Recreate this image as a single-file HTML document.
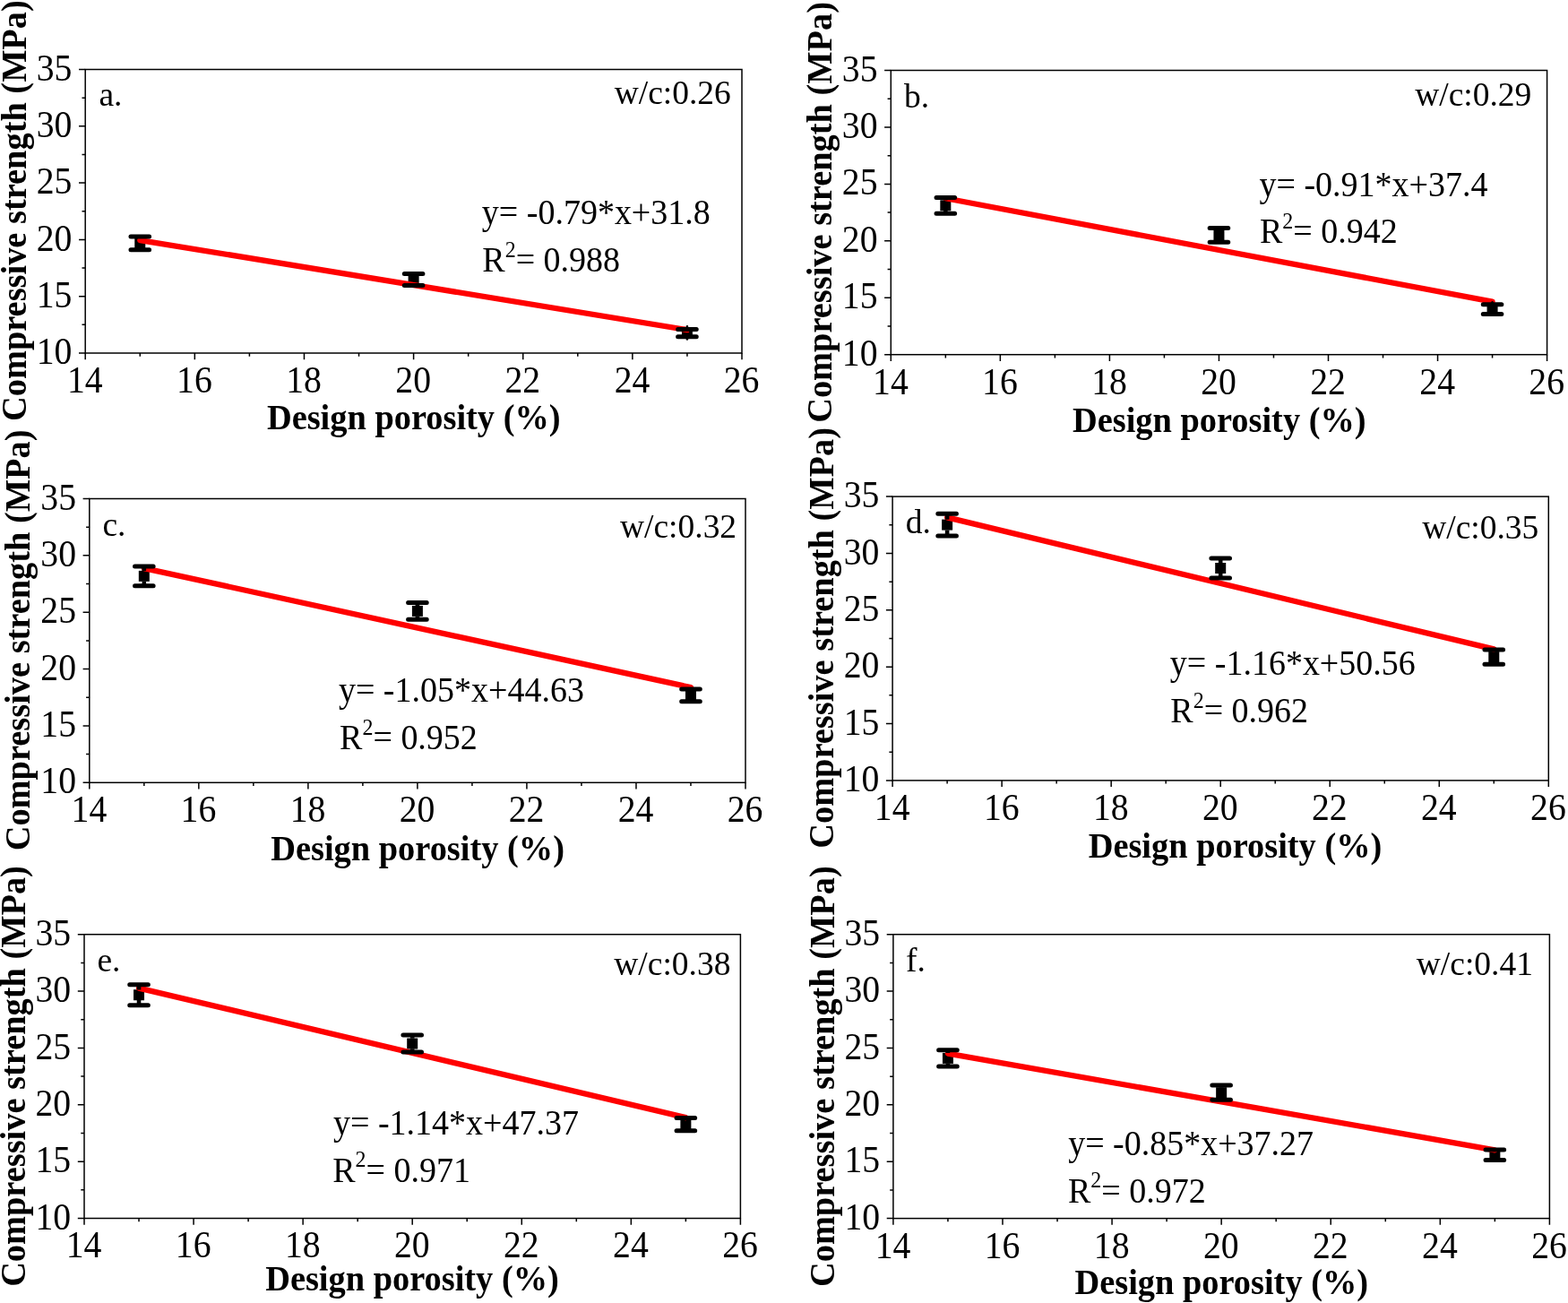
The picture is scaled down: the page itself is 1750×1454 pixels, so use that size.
<!DOCTYPE html>
<html><head><meta charset="utf-8"><title>Compressive strength vs design porosity</title>
<style>
html,body{margin:0;padding:0;background:#fff;}
body{width:1750px;height:1454px;overflow:hidden;}
svg{display:block;}
text{font-family:"Liberation Serif","Times New Roman",serif;fill:#000;}
.tk{font-size:40.5px;}
.ann{font-size:38px;}
.wc{font-size:37.5px;}
.let{font-size:37.5px;}
.lab{font-size:38.4px;font-weight:bold;}
.sup{font-size:24px;}
</style></head><body>
<svg width="1750" height="1454" viewBox="0 0 1750 1454">
<rect width="1750" height="1454" fill="#fff"/>
<g id="pa"><rect x="95.2" y="77.5" width="732.8" height="316.5" fill="none" stroke="#000" stroke-width="1.5"/><path d="M88 394H95.2M88 330.7H95.2M88 267.4H95.2M88 204.1H95.2M88 140.8H95.2M88 77.5H95.2M91.5 362.35H95.2M91.5 299.05H95.2M91.5 235.75H95.2M91.5 172.45H95.2M91.5 109.15H95.2M95.2 394V401.2M217.33 394V401.2M339.47 394V401.2M461.6 394V401.2M583.73 394V401.2M705.87 394V401.2M828 394V401.2M156.27 394V397.7M278.4 394V397.7M400.53 394V397.7M522.67 394V397.7M644.8 394V397.7M766.93 394V397.7" stroke="#000" stroke-width="1.5" fill="none"/><text class="tk" transform="translate(80.4 406.1) scale(0.98 1.055)" text-anchor="end">10</text><text class="tk" transform="translate(80.4 342.8) scale(0.98 1.055)" text-anchor="end">15</text><text class="tk" transform="translate(80.4 279.5) scale(0.98 1.055)" text-anchor="end">20</text><text class="tk" transform="translate(80.4 216.2) scale(0.98 1.055)" text-anchor="end">25</text><text class="tk" transform="translate(80.4 152.9) scale(0.98 1.055)" text-anchor="end">30</text><text class="tk" transform="translate(80.4 89.6) scale(0.98 1.055)" text-anchor="end">35</text><text class="tk" transform="translate(94.8 437.9) scale(0.98 1.055)" text-anchor="middle">14</text><text class="tk" transform="translate(216.93 437.9) scale(0.98 1.055)" text-anchor="middle">16</text><text class="tk" transform="translate(339.07 437.9) scale(0.98 1.055)" text-anchor="middle">18</text><text class="tk" transform="translate(461.2 437.9) scale(0.98 1.055)" text-anchor="middle">20</text><text class="tk" transform="translate(583.33 437.9) scale(0.98 1.055)" text-anchor="middle">22</text><text class="tk" transform="translate(705.47 437.9) scale(0.98 1.055)" text-anchor="middle">24</text><text class="tk" transform="translate(827.6 437.9) scale(0.98 1.055)" text-anchor="middle">26</text><text class="lab" transform="translate(461.75 479.1) scale(1 1.04)" text-anchor="middle">Design porosity (%)</text><text class="lab" transform="translate(29 235.1) rotate(-90) scale(1 1.04)" text-anchor="middle">Compressive strength (MPa)</text><rect x="150.27" y="265.3" width="12" height="12" fill="#000"/><rect x="455.6" y="305.9" width="12" height="12" fill="#000"/><rect x="760.93" y="365.65" width="12" height="12" fill="#000"/><line x1="156.27" y1="268.03" x2="766.93" y2="368.05" stroke="#ff0000" stroke-width="6.3" stroke-linecap="round"/><path d="M156.27 263.9V265.5M156.27 277.1V278.7M461.6 305.4V306.1M461.6 317.7V318.4" stroke="#000" stroke-width="4.6" fill="none"/><path d="M766.93 364.4V365.65M766.93 377.65V378.5" stroke="#000" stroke-width="2.6" stroke-linecap="round" fill="none"/><path d="M145.97 263.9H166.57M145.97 278.7H166.57M451.3 305.4H471.9M451.3 318.4H471.9M756.63 367.5H777.23M756.63 375.8H777.23" stroke="#000" stroke-width="5" stroke-linecap="round" fill="none"/><text class="let" transform="translate(110.44 118.1) scale(1 1.03)">a.</text><text class="wc" transform="translate(815.83 115.8) scale(1 1.03)" text-anchor="end">w/c:0.26</text><text class="ann" transform="translate(537.84 249.9) scale(1 1.03)">y= -0.79*x+31.8</text><text class="ann" transform="translate(538.3 302.8) scale(1 1.03)">R<tspan class="sup" dy="-15.8">2</tspan><tspan dy="15.8">= 0.988</tspan></text></g>
<g id="pb"><rect x="994.3" y="78.5" width="732.3" height="317.2" fill="none" stroke="#000" stroke-width="1.5"/><path d="M987.1 395.7H994.3M987.1 332.26H994.3M987.1 268.82H994.3M987.1 205.38H994.3M987.1 141.94H994.3M987.1 78.5H994.3M990.6 363.98H994.3M990.6 300.54H994.3M990.6 237.1H994.3M990.6 173.66H994.3M990.6 110.22H994.3M994.3 395.7V402.9M1116.35 395.7V402.9M1238.4 395.7V402.9M1360.45 395.7V402.9M1482.5 395.7V402.9M1604.55 395.7V402.9M1726.6 395.7V402.9M1055.33 395.7V399.4M1177.38 395.7V399.4M1299.42 395.7V399.4M1421.47 395.7V399.4M1543.53 395.7V399.4M1665.57 395.7V399.4" stroke="#000" stroke-width="1.5" fill="none"/><text class="tk" transform="translate(979.5 407.8) scale(0.98 1.055)" text-anchor="end">10</text><text class="tk" transform="translate(979.5 344.36) scale(0.98 1.055)" text-anchor="end">15</text><text class="tk" transform="translate(979.5 280.92) scale(0.98 1.055)" text-anchor="end">20</text><text class="tk" transform="translate(979.5 217.48) scale(0.98 1.055)" text-anchor="end">25</text><text class="tk" transform="translate(979.5 154.04) scale(0.98 1.055)" text-anchor="end">30</text><text class="tk" transform="translate(979.5 90.6) scale(0.98 1.055)" text-anchor="end">35</text><text class="tk" transform="translate(993.9 439.6) scale(0.98 1.055)" text-anchor="middle">14</text><text class="tk" transform="translate(1115.95 439.6) scale(0.98 1.055)" text-anchor="middle">16</text><text class="tk" transform="translate(1238 439.6) scale(0.98 1.055)" text-anchor="middle">18</text><text class="tk" transform="translate(1360.05 439.6) scale(0.98 1.055)" text-anchor="middle">20</text><text class="tk" transform="translate(1482.1 439.6) scale(0.98 1.055)" text-anchor="middle">22</text><text class="tk" transform="translate(1604.15 439.6) scale(0.98 1.055)" text-anchor="middle">24</text><text class="tk" transform="translate(1726.2 439.6) scale(0.98 1.055)" text-anchor="middle">26</text><text class="lab" transform="translate(1360.8 482.2) scale(1 1.04)" text-anchor="middle">Design porosity (%)</text><text class="lab" transform="translate(927.6 236.95) rotate(-90) scale(1 1.04)" text-anchor="middle">Compressive strength (MPa)</text><rect x="1049.33" y="223.3" width="12" height="12" fill="#000"/><rect x="1354.45" y="256.4" width="12" height="12" fill="#000"/><rect x="1659.57" y="339.1" width="12" height="12" fill="#000"/><line x1="1055.33" y1="221.24" x2="1665.57" y2="336.7" stroke="#ff0000" stroke-width="6.3" stroke-linecap="round"/><path d="M1055.33 220.4V223.5M1055.33 235.1V238.2M1360.45 254.6V256.6M1360.45 268.2V270.2" stroke="#000" stroke-width="4.6" fill="none"/><path d="M1665.57 337.2V339.1" stroke="#000" stroke-width="2.6" stroke-linecap="round" fill="none"/><path d="M1045.03 220.4H1065.62M1045.03 238.2H1065.62M1350.15 254.6H1370.75M1350.15 270.2H1370.75M1655.27 339.8H1675.87M1655.27 350.4H1675.87" stroke="#000" stroke-width="5" stroke-linecap="round" fill="none"/><text class="let" transform="translate(1009 119.6) scale(1 1.03)">b.</text><text class="wc" transform="translate(1709.32 118.2) scale(1 1.03)" text-anchor="end">w/c:0.29</text><text class="ann" transform="translate(1405.54 219.1) scale(1 1.03)">y= -0.91*x+37.4</text><text class="ann" transform="translate(1405.9 271) scale(1 1.03)">R<tspan class="sup" dy="-15.8">2</tspan><tspan dy="15.8">= 0.942</tspan></text></g>
<g id="pc"><rect x="99.8" y="556.5" width="732.2" height="316.8" fill="none" stroke="#000" stroke-width="1.5"/><path d="M92.6 873.3H99.8M92.6 809.94H99.8M92.6 746.58H99.8M92.6 683.22H99.8M92.6 619.86H99.8M92.6 556.5H99.8M96.1 841.62H99.8M96.1 778.26H99.8M96.1 714.9H99.8M96.1 651.54H99.8M96.1 588.18H99.8M99.8 873.3V880.5M221.83 873.3V880.5M343.87 873.3V880.5M465.9 873.3V880.5M587.93 873.3V880.5M709.97 873.3V880.5M832 873.3V880.5M160.82 873.3V877M282.85 873.3V877M404.88 873.3V877M526.92 873.3V877M648.95 873.3V877M770.98 873.3V877" stroke="#000" stroke-width="1.5" fill="none"/><text class="tk" transform="translate(85 885.4) scale(0.98 1.055)" text-anchor="end">10</text><text class="tk" transform="translate(85 822.04) scale(0.98 1.055)" text-anchor="end">15</text><text class="tk" transform="translate(85 758.68) scale(0.98 1.055)" text-anchor="end">20</text><text class="tk" transform="translate(85 695.32) scale(0.98 1.055)" text-anchor="end">25</text><text class="tk" transform="translate(85 631.96) scale(0.98 1.055)" text-anchor="end">30</text><text class="tk" transform="translate(85 568.6) scale(0.98 1.055)" text-anchor="end">35</text><text class="tk" transform="translate(99.4 917.2) scale(0.98 1.055)" text-anchor="middle">14</text><text class="tk" transform="translate(221.43 917.2) scale(0.98 1.055)" text-anchor="middle">16</text><text class="tk" transform="translate(343.47 917.2) scale(0.98 1.055)" text-anchor="middle">18</text><text class="tk" transform="translate(465.5 917.2) scale(0.98 1.055)" text-anchor="middle">20</text><text class="tk" transform="translate(587.53 917.2) scale(0.98 1.055)" text-anchor="middle">22</text><text class="tk" transform="translate(709.57 917.2) scale(0.98 1.055)" text-anchor="middle">24</text><text class="tk" transform="translate(831.6 917.2) scale(0.98 1.055)" text-anchor="middle">26</text><text class="lab" transform="translate(466.1 959.5) scale(1 1.04)" text-anchor="middle">Design porosity (%)</text><text class="lab" transform="translate(33.3 714.45) rotate(-90) scale(1 1.04)" text-anchor="middle">Compressive strength (MPa)</text><rect x="154.82" y="636.85" width="12" height="12" fill="#000"/><rect x="459.9" y="675.9" width="12" height="12" fill="#000"/><rect x="764.98" y="769.85" width="12" height="12" fill="#000"/><line x1="160.82" y1="634.05" x2="770.98" y2="767.11" stroke="#ff0000" stroke-width="6.3" stroke-linecap="round"/><path d="M160.82 632V637.05M160.82 648.65V653.7M465.9 672.5V676.1M465.9 687.7V691.3M770.98 769V770.05M770.98 781.65V782.7" stroke="#000" stroke-width="4.6" fill="none"/><path d="M150.52 632H171.12M150.52 653.7H171.12M455.6 672.5H476.2M455.6 691.3H476.2M760.68 769H781.28M760.68 782.7H781.28" stroke="#000" stroke-width="5" stroke-linecap="round" fill="none"/><text class="let" transform="translate(114.47 597.8) scale(1 1.03)">c.</text><text class="wc" transform="translate(822.12 600) scale(1 1.03)" text-anchor="end">w/c:0.32</text><text class="ann" transform="translate(377.94 783) scale(1 1.03)">y= -1.05*x+44.63</text><text class="ann" transform="translate(379.1 835.8) scale(1 1.03)">R<tspan class="sup" dy="-15.8">2</tspan><tspan dy="15.8">= 0.952</tspan></text></g>
<g id="pd"><rect x="996.1" y="554.1" width="732.2" height="316.8" fill="none" stroke="#000" stroke-width="1.5"/><path d="M988.9 870.9H996.1M988.9 807.54H996.1M988.9 744.18H996.1M988.9 680.82H996.1M988.9 617.46H996.1M988.9 554.1H996.1M992.4 839.22H996.1M992.4 775.86H996.1M992.4 712.5H996.1M992.4 649.14H996.1M992.4 585.78H996.1M996.1 870.9V878.1M1118.13 870.9V878.1M1240.17 870.9V878.1M1362.2 870.9V878.1M1484.23 870.9V878.1M1606.27 870.9V878.1M1728.3 870.9V878.1M1057.12 870.9V874.6M1179.15 870.9V874.6M1301.18 870.9V874.6M1423.22 870.9V874.6M1545.25 870.9V874.6M1667.28 870.9V874.6" stroke="#000" stroke-width="1.5" fill="none"/><text class="tk" transform="translate(981.3 883) scale(0.98 1.055)" text-anchor="end">10</text><text class="tk" transform="translate(981.3 819.64) scale(0.98 1.055)" text-anchor="end">15</text><text class="tk" transform="translate(981.3 756.28) scale(0.98 1.055)" text-anchor="end">20</text><text class="tk" transform="translate(981.3 692.92) scale(0.98 1.055)" text-anchor="end">25</text><text class="tk" transform="translate(981.3 629.56) scale(0.98 1.055)" text-anchor="end">30</text><text class="tk" transform="translate(981.3 566.2) scale(0.98 1.055)" text-anchor="end">35</text><text class="tk" transform="translate(995.7 914.8) scale(0.98 1.055)" text-anchor="middle">14</text><text class="tk" transform="translate(1117.73 914.8) scale(0.98 1.055)" text-anchor="middle">16</text><text class="tk" transform="translate(1239.77 914.8) scale(0.98 1.055)" text-anchor="middle">18</text><text class="tk" transform="translate(1361.8 914.8) scale(0.98 1.055)" text-anchor="middle">20</text><text class="tk" transform="translate(1483.83 914.8) scale(0.98 1.055)" text-anchor="middle">22</text><text class="tk" transform="translate(1605.87 914.8) scale(0.98 1.055)" text-anchor="middle">24</text><text class="tk" transform="translate(1727.9 914.8) scale(0.98 1.055)" text-anchor="middle">26</text><text class="lab" transform="translate(1378.5 957.2) scale(1 1.04)" text-anchor="middle">Design porosity (%)</text><text class="lab" transform="translate(929.6 711.9) rotate(-90) scale(1 1.04)" text-anchor="middle">Compressive strength (MPa)</text><rect x="1051.12" y="579.6" width="12" height="12" fill="#000"/><rect x="1356.2" y="628" width="12" height="12" fill="#000"/><rect x="1661.28" y="727.05" width="12" height="12" fill="#000"/><line x1="1057.12" y1="577.42" x2="1667.28" y2="724.41" stroke="#ff0000" stroke-width="6.3" stroke-linecap="round"/><path d="M1057.12 573.3V579.8M1057.12 591.4V597.9M1362.2 623V628.2M1362.2 639.8V645M1667.28 724.95V727.25M1667.28 738.85V741.15" stroke="#000" stroke-width="4.6" fill="none"/><path d="M1046.82 573.3H1067.42M1046.82 597.9H1067.42M1351.9 623H1372.5M1351.9 645H1372.5M1656.98 724.95H1677.58M1656.98 741.15H1677.58" stroke="#000" stroke-width="5" stroke-linecap="round" fill="none"/><text class="let" transform="translate(1010.85 595) scale(1 1.03)">d.</text><text class="wc" transform="translate(1717.32 600.7) scale(1 1.03)" text-anchor="end">w/c:0.35</text><text class="ann" transform="translate(1305.84 753) scale(1 1.03)">y= -1.16*x+50.56</text><text class="ann" transform="translate(1306.3 805.8) scale(1 1.03)">R<tspan class="sup" dy="-15.8">2</tspan><tspan dy="15.8">= 0.962</tspan></text></g>
<g id="pe"><rect x="94" y="1042.7" width="732.4" height="316.8" fill="none" stroke="#000" stroke-width="1.5"/><path d="M86.8 1359.5H94M86.8 1296.14H94M86.8 1232.78H94M86.8 1169.42H94M86.8 1106.06H94M86.8 1042.7H94M90.3 1327.82H94M90.3 1264.46H94M90.3 1201.1H94M90.3 1137.74H94M90.3 1074.38H94M94 1359.5V1366.7M216.07 1359.5V1366.7M338.13 1359.5V1366.7M460.2 1359.5V1366.7M582.27 1359.5V1366.7M704.33 1359.5V1366.7M826.4 1359.5V1366.7M155.03 1359.5V1363.2M277.1 1359.5V1363.2M399.17 1359.5V1363.2M521.23 1359.5V1363.2M643.3 1359.5V1363.2M765.37 1359.5V1363.2" stroke="#000" stroke-width="1.5" fill="none"/><text class="tk" transform="translate(79.2 1371.6) scale(0.98 1.055)" text-anchor="end">10</text><text class="tk" transform="translate(79.2 1308.24) scale(0.98 1.055)" text-anchor="end">15</text><text class="tk" transform="translate(79.2 1244.88) scale(0.98 1.055)" text-anchor="end">20</text><text class="tk" transform="translate(79.2 1181.52) scale(0.98 1.055)" text-anchor="end">25</text><text class="tk" transform="translate(79.2 1118.16) scale(0.98 1.055)" text-anchor="end">30</text><text class="tk" transform="translate(79.2 1054.8) scale(0.98 1.055)" text-anchor="end">35</text><text class="tk" transform="translate(93.6 1403.4) scale(0.98 1.055)" text-anchor="middle">14</text><text class="tk" transform="translate(215.67 1403.4) scale(0.98 1.055)" text-anchor="middle">16</text><text class="tk" transform="translate(337.73 1403.4) scale(0.98 1.055)" text-anchor="middle">18</text><text class="tk" transform="translate(459.8 1403.4) scale(0.98 1.055)" text-anchor="middle">20</text><text class="tk" transform="translate(581.87 1403.4) scale(0.98 1.055)" text-anchor="middle">22</text><text class="tk" transform="translate(703.93 1403.4) scale(0.98 1.055)" text-anchor="middle">24</text><text class="tk" transform="translate(826 1403.4) scale(0.98 1.055)" text-anchor="middle">26</text><text class="lab" transform="translate(460 1439.5) scale(1 1.04)" text-anchor="middle">Design porosity (%)</text><text class="lab" transform="translate(27.8 1201) rotate(-90) scale(1 1.04)" text-anchor="middle">Compressive strength (MPa)</text><rect x="149.03" y="1104.25" width="12" height="12" fill="#000"/><rect x="454.2" y="1158.55" width="12" height="12" fill="#000"/><rect x="759.37" y="1248.6" width="12" height="12" fill="#000"/><line x1="155.03" y1="1102.64" x2="765.37" y2="1247.1" stroke="#ff0000" stroke-width="6.3" stroke-linecap="round"/><path d="M155.03 1098.8V1104.45M155.03 1116.05V1121.7M460.2 1155V1158.75M460.2 1170.35V1174.1M765.37 1247.5V1248.8M765.37 1260.4V1261.7" stroke="#000" stroke-width="4.6" fill="none"/><path d="M144.73 1098.8H165.33M144.73 1121.7H165.33M449.9 1155H470.5M449.9 1174.1H470.5M755.07 1247.5H775.67M755.07 1261.7H775.67" stroke="#000" stroke-width="5" stroke-linecap="round" fill="none"/><text class="let" transform="translate(108.44 1084) scale(1 1.03)">e.</text><text class="wc" transform="translate(815.42 1088) scale(1 1.03)" text-anchor="end">w/c:0.38</text><text class="ann" transform="translate(372.04 1265.9) scale(1 1.03)">y= -1.14*x+47.37</text><text class="ann" transform="translate(371.2 1318.5) scale(1 1.03)">R<tspan class="sup" dy="-15.8">2</tspan><tspan dy="15.8">= 0.971</tspan></text></g>
<g id="pf"><rect x="996.9" y="1042.7" width="732.5" height="316.9" fill="none" stroke="#000" stroke-width="1.5"/><path d="M989.7 1359.6H996.9M989.7 1296.22H996.9M989.7 1232.84H996.9M989.7 1169.46H996.9M989.7 1106.08H996.9M989.7 1042.7H996.9M993.2 1327.91H996.9M993.2 1264.53H996.9M993.2 1201.15H996.9M993.2 1137.77H996.9M993.2 1074.39H996.9M996.9 1359.6V1366.8M1118.98 1359.6V1366.8M1241.07 1359.6V1366.8M1363.15 1359.6V1366.8M1485.23 1359.6V1366.8M1607.32 1359.6V1366.8M1729.4 1359.6V1366.8M1057.94 1359.6V1363.3M1180.03 1359.6V1363.3M1302.11 1359.6V1363.3M1424.19 1359.6V1363.3M1546.28 1359.6V1363.3M1668.36 1359.6V1363.3" stroke="#000" stroke-width="1.5" fill="none"/><text class="tk" transform="translate(982.1 1371.7) scale(0.98 1.055)" text-anchor="end">10</text><text class="tk" transform="translate(982.1 1308.32) scale(0.98 1.055)" text-anchor="end">15</text><text class="tk" transform="translate(982.1 1244.94) scale(0.98 1.055)" text-anchor="end">20</text><text class="tk" transform="translate(982.1 1181.56) scale(0.98 1.055)" text-anchor="end">25</text><text class="tk" transform="translate(982.1 1118.18) scale(0.98 1.055)" text-anchor="end">30</text><text class="tk" transform="translate(982.1 1054.8) scale(0.98 1.055)" text-anchor="end">35</text><text class="tk" transform="translate(996.5 1403.5) scale(0.98 1.055)" text-anchor="middle">14</text><text class="tk" transform="translate(1118.58 1403.5) scale(0.98 1.055)" text-anchor="middle">16</text><text class="tk" transform="translate(1240.67 1403.5) scale(0.98 1.055)" text-anchor="middle">18</text><text class="tk" transform="translate(1362.75 1403.5) scale(0.98 1.055)" text-anchor="middle">20</text><text class="tk" transform="translate(1484.83 1403.5) scale(0.98 1.055)" text-anchor="middle">22</text><text class="tk" transform="translate(1606.92 1403.5) scale(0.98 1.055)" text-anchor="middle">24</text><text class="tk" transform="translate(1729 1403.5) scale(0.98 1.055)" text-anchor="middle">26</text><text class="lab" transform="translate(1363.3 1444.2) scale(1 1.04)" text-anchor="middle">Design porosity (%)</text><text class="lab" transform="translate(930.7 1201.15) rotate(-90) scale(1 1.04)" text-anchor="middle">Compressive strength (MPa)</text><rect x="1051.94" y="1174.9" width="12" height="12" fill="#000"/><rect x="1357.15" y="1213.2" width="12" height="12" fill="#000"/><rect x="1662.36" y="1282.8" width="12" height="12" fill="#000"/><line x1="1057.94" y1="1175.54" x2="1668.36" y2="1283.29" stroke="#ff0000" stroke-width="6.3" stroke-linecap="round"/><path d="M1057.94 1171.8V1175.1M1057.94 1186.7V1190M1363.15 1211.05V1213.4M1363.15 1225V1227.35" stroke="#000" stroke-width="4.6" fill="none"/><path d="M1047.64 1171.8H1068.24M1047.64 1190H1068.24M1352.85 1211.05H1373.45M1352.85 1227.35H1373.45M1658.06 1283H1678.66M1658.06 1294.6H1678.66" stroke="#000" stroke-width="5" stroke-linecap="round" fill="none"/><text class="let" transform="translate(1011.04 1084.2) scale(1 1.03)">f.</text><text class="wc" transform="translate(1710.92 1088.1) scale(1 1.03)" text-anchor="end">w/c:0.41</text><text class="ann" transform="translate(1192.14 1288.6) scale(1 1.03)">y= -0.85*x+37.27</text><text class="ann" transform="translate(1191.9 1341.7) scale(1 1.03)">R<tspan class="sup" dy="-15.8">2</tspan><tspan dy="15.8">= 0.972</tspan></text></g>
</svg>
</body></html>
